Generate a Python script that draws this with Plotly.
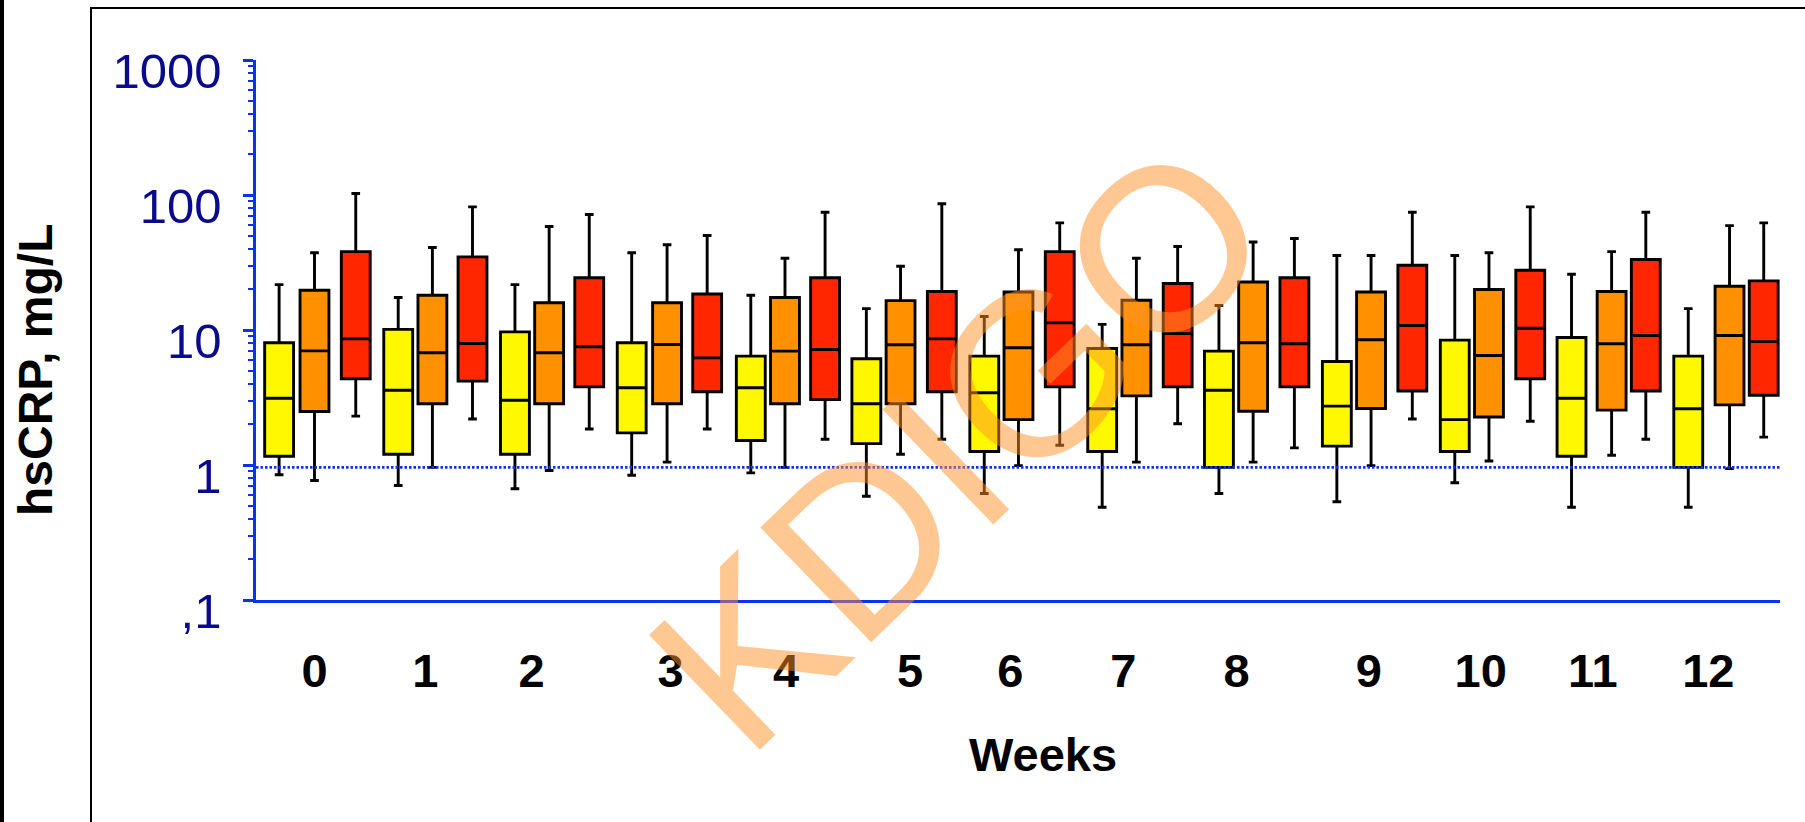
import plotly.graph_objects as go

# ---------------- data ----------------
weeks = ["0", "1", "2", "3", "4", "5", "6", "7", "8", "9", "10", "11", "12"]

# yellow group
y_low = [0.846, 0.705, 0.667, 0.84, 0.875, 0.587, 0.615, 0.487, 0.615, 0.534, 0.738, 0.487, 0.487]
y_q1 = [1.16, 1.20, 1.20, 1.73, 1.52, 1.44, 1.26, 1.26, 0.96, 1.38, 1.26, 1.16, 0.96]
y_med = [3.12, 3.58, 3.02, 3.73, 3.73, 2.84, 3.43, 2.61, 3.58, 2.73, 2.17, 3.12, 2.61]
y_q3 = [8.04, 10.1, 9.69, 8.04, 6.40, 6.12, 6.40, 7.29, 6.97, 5.84, 8.41, 8.79, 6.40]
y_up = [21.7, 17.4, 21.7, 37.3, 18.1, 14.4, 12.6, 11.0, 15.2, 35.6, 35.6, 25.9, 14.4]

# orange group
o_low = [0.768, 0.96, 0.91, 1.05, 0.96, 1.20, 0.99, 1.05, 1.05, 0.99, 1.07, 1.18, 0.94]
o_q1 = [2.49, 2.84, 2.84, 2.84, 2.84, 2.84, 2.17, 3.25, 2.50, 2.62, 2.27, 2.55, 2.79]
o_med = [7.01, 6.78, 6.78, 7.81, 6.97, 7.77, 7.38, 7.77, 8.04, 8.46, 6.47, 7.90, 9.1]
o_q3 = [19.7, 18.1, 15.9, 15.9, 17.4, 16.5, 19.1, 16.6, 22.7, 19.1, 19.95, 19.3, 21.1]
o_up = [37.3, 40.8, 58.4, 42.8, 34.0, 29.7, 39.3, 34.0, 44.9, 35.6, 37.3, 38.1, 59.3]

# red group
r_low = [2.30, 2.19, 1.85, 1.85, 1.55, 1.55, 1.40, 2.02, 1.34, 2.19, 2.11, 1.55, 1.61]
r_q1 = [4.35, 4.18, 3.79, 3.49, 3.05, 3.49, 3.79, 3.79, 3.79, 3.53, 4.35, 3.53, 3.29]
r_med = [8.6, 7.94, 7.52, 6.22, 7.17, 8.6, 11.3, 9.42, 7.90, 10.8, 10.3, 9.1, 8.2]
r_q3 = [38.1, 34.8, 24.4, 18.5, 24.4, 19.3, 38.1, 22.1, 24.4, 30.2, 27.7, 33.3, 23.1]
r_up = [102.6, 81.7, 71.7, 50.1, 74.6, 86.1, 62.2, 41.5, 47.6, 74.6, 81.7, 74.6, 62.2]

ref_level = 0.96

y_tickvals = [0.1, 1, 10, 100, 1000]
y_ticktext = [",1", "1", "10", "100", "1000"]

# ---------------- layout positions (week units) ----------------
yellow_pos = [-0.30, 0.71, 1.70, 2.69, 3.70, 4.68, 5.68, 6.68, 7.67, 8.67, 9.67, 10.66, 11.65]
orange_pos = [0.00, 1.00, 1.99, 2.99, 3.99, 4.97, 5.97, 6.97, 7.96, 8.96, 9.96, 11.00, 12.00]
red_pos = [0.35, 1.34, 2.33, 3.33, 4.33, 5.32, 6.32, 7.32, 8.31, 9.31, 10.31, 11.29, 12.29]
label_pos = [0.00, 0.94, 1.84, 3.02, 4.00, 5.05, 5.90, 6.86, 7.82, 8.94, 9.89, 10.84, 11.82]
x_range = [-0.496, 12.428]

W, H = 1805, 822
ML, MR, MT, MB = 256, 25, 60, 222
PW, PH = W - ML - MR, H - MT - MB

def px_x(px):
    return (px - ML) / PW

def px_y(py):
    return (H - MB - py) / PH

FONT = "Liberation Sans, Arial, sans-serif"
BLUE = "#0A32F0"
NAVY = "#0A0A8C"

fig = go.Figure()

def add_group(pos, low, q1, med, q3, up, color):
    fig.add_trace(go.Box(
        x=pos, q1=q1, median=med, q3=q3, lowerfence=low, upperfence=up,
        width=0.245, whiskerwidth=0.3,
        fillcolor=color, line=dict(color="black", width=2.9),
        boxpoints=False, showlegend=False, hoverinfo="skip",
    ))

# reference line drawn first
fig.add_trace(go.Scatter(
    x=x_range, y=[ref_level, ref_level], mode="lines",
    line=dict(color=BLUE, width=2.6, dash="2.5px,2px"),
    showlegend=False, hoverinfo="skip",
))

add_group(yellow_pos, y_low, y_q1, y_med, y_q3, y_up, "#FFF800")
add_group(orange_pos, o_low, o_q1, o_med, o_q3, o_up, "#FF9100")
add_group(red_pos, r_low, r_q1, r_med, r_q3, r_up, "#FF2600")

minor_vals = [m * 10.0 ** e for e in range(-1, 3) for m in range(2, 10)]

fig.update_layout(
    width=W, height=H,
    margin=dict(l=ML, r=MR, t=MT, b=MB, pad=0),
    paper_bgcolor="white", plot_bgcolor="white",
    boxmode="overlay",
    font=dict(family=FONT),
    xaxis=dict(
        range=x_range, showgrid=False, zeroline=False,
        showline=True, linecolor=BLUE, linewidth=2.5,
        ticks="", tickmode="array", tickvals=label_pos, ticktext=weeks,
        tickfont=dict(family=FONT, size=47, color="black", weight="bold"),
        ticklabelstandoff=28,
    ),
    yaxis=dict(
        type="log", range=[-1, 3], showgrid=False, zeroline=False,
        showline=True, linecolor=BLUE, linewidth=2.5,
        ticks="outside", ticklen=10, tickwidth=2.5, tickcolor=BLUE,
        tickmode="array", tickvals=y_tickvals, ticktext=y_ticktext,
        tickfont=dict(family=FONT, size=49, color=NAVY),
        ticklabelstandoff=12, ticklabelshift=11,
        minor=dict(ticks="outside", ticklen=5, tickwidth=2, tickcolor=BLUE,
                   tickmode="array", tickvals=minor_vals, showgrid=False),
    ),
    shapes=[
        dict(type="rect", xref="paper", yref="paper",
             x0=px_x(91), x1=px_x(1900), y0=px_y(8), y1=px_y(900),
             line=dict(color="black", width=2), fillcolor="rgba(0,0,0,0)", layer="below"),
        dict(type="rect", xref="paper", yref="paper",
             x0=px_x(0), x1=px_x(4), y0=px_y(-10), y1=px_y(900),
             line=dict(width=0), fillcolor="black", layer="below"),
    ],
    annotations=[
        dict(text="hsCRP, mg/L", xref="paper", yref="paper",
             x=px_x(35), y=px_y(370), textangle=-90, showarrow=False,
             xanchor="center", yanchor="middle",
             font=dict(family=FONT, size=48, color="black", weight="bold")),
        dict(text="Weeks", xref="paper", yref="paper",
             x=px_x(1043), y=px_y(754), showarrow=False,
             xanchor="center", yanchor="middle",
             font=dict(family=FONT, size=47, color="black", weight="bold")),
        dict(text="KDIGO", xref="paper", yref="paper",
             x=px_x(959), y=px_y(445), textangle=-44, showarrow=False,
             xanchor="center", yanchor="middle",
             font=dict(family=FONT, size=232, color="rgba(255,145,40,0.5)")),
    ],
)

fig.write_html("out.html")
